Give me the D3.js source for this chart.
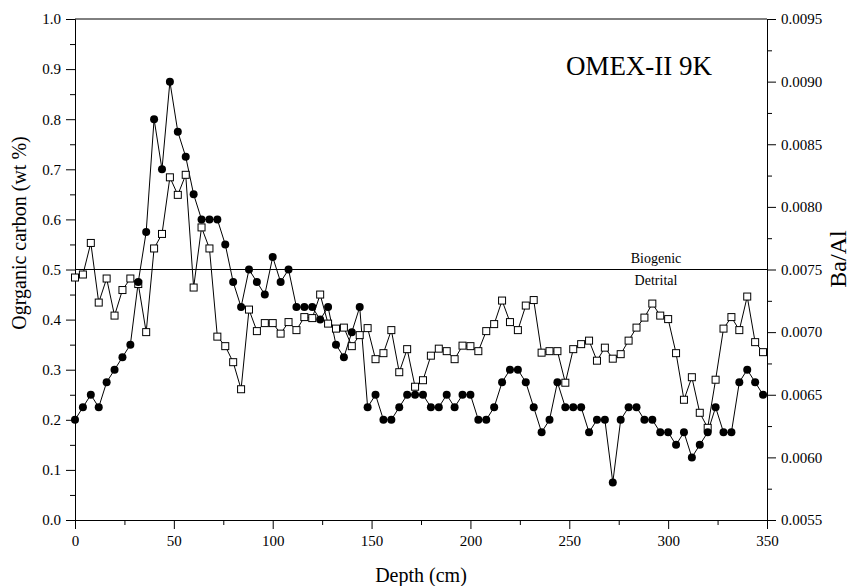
<!DOCTYPE html>
<html><head><meta charset="utf-8">
<script src="https://cdn.jsdelivr.net/npm/d3@7"></script>
<style>body{margin:0;background:#fff}svg{display:block}text{font-family:"Liberation Serif","Times New Roman",serif;fill:#000}</style>
</head><body><svg id="c" width="851" height="586"></svg>
<script>
const depth = [0,4,8,12,16,20,24,28,32,36,40,44,48,52,56,60,64,68,72,76,80,84,88,92,96,100,104,108,112,116,120,124,128,132,136,140,144,148,152,156,160,164,168,172,176,180,184,188,192,196,200,204,208,212,216,220,224,228,232,236,240,244,248,252,256,260,264,268,272,276,280,284,288,292,296,300,304,308,312,316,320,324,328,332,336,340,344,348];
const orgCarbon = [0.2,0.225,0.25,0.225,0.275,0.3,0.325,0.35,0.475,0.575,0.8,0.7,0.875,0.775,0.725,0.65,0.6,0.6,0.6,0.55,0.475,0.425,0.5,0.475,0.45,0.525,0.475,0.5,0.425,0.425,0.425,0.4,0.425,0.35,0.325,0.375,0.425,0.225,0.25,0.2,0.2,0.225,0.25,0.25,0.25,0.225,0.225,0.25,0.225,0.25,0.25,0.2,0.2,0.225,0.275,0.3,0.3,0.275,0.225,0.175,0.2,0.275,0.225,0.225,0.225,0.175,0.2,0.2,0.075,0.2,0.225,0.225,0.2,0.2,0.175,0.175,0.15,0.175,0.125,0.15,0.175,0.225,0.175,0.175,0.275,0.3,0.275,0.25];
const baAl = [0.007436,0.00746,0.007712,0.007236,0.007428,0.007132,0.007336,0.007428,0.007384,0.0070,0.007668,0.007784,0.008236,0.008096,0.008256,0.007356,0.007836,0.007668,0.006964,0.006888,0.00676,0.006544,0.00718,0.007008,0.007072,0.007072,0.006988,0.00708,0.007016,0.00712,0.007112,0.0073,0.007068,0.007028,0.007036,0.006888,0.006976,0.007032,0.006784,0.006832,0.007016,0.00668,0.006864,0.006564,0.006616,0.006812,0.006868,0.006848,0.006784,0.006892,0.006888,0.006848,0.007008,0.007064,0.007252,0.00708,0.007016,0.007212,0.007256,0.006836,0.006848,0.006848,0.006596,0.006864,0.006904,0.006932,0.006772,0.006876,0.006788,0.006824,0.006932,0.007036,0.007116,0.007228,0.007132,0.007104,0.006832,0.00646,0.00664,0.006356,0.006236,0.00662,0.007028,0.00712,0.007016,0.007284,0.00692,0.00684];
const xTicks = [0,50,100,150,200,250,300,350];
const xMinor = [25,75,125,175,225,275,325];
const yLeftTicks = [0.0,0.1,0.2,0.3,0.4,0.5,0.6,0.7,0.8,0.9,1.0];
const yLeftMinor = [0.05,0.15,0.25,0.35,0.45,0.55,0.65,0.75,0.85,0.95];
const yRightTicks = [0.0055,0.0060,0.0065,0.0070,0.0075,0.0080,0.0085,0.0090,0.0095];
const yRightMinor = [0.00575,0.00625,0.00675,0.00725,0.00775,0.00825,0.00875,0.00925];
const threshold = 0.5;
const title = "OMEX-II 9K";

const L=75,R=767,T=19,B=520;
const FONT='"Liberation Serif","Times New Roman",serif';
const svg=d3.select("#c");
const x=d3.scaleLinear().domain([0,350]).range([L,R]);
const yL=d3.scaleLinear().domain([0,1]).range([B,T]);
const yR=d3.scaleLinear().domain([0.0055,0.0095]).range([B,T]);

function styleAxis(g){g.attr("font-family",FONT).attr("font-size",15);g.selectAll("path").attr("stroke","#000").attr("stroke-width",1);g.selectAll("line").attr("stroke","#000");g.selectAll("text").style("font-family",FONT).style("font-size","15px").attr("fill","#000");}

svg.append("g").attr("transform",`translate(0,${B})`).call(d3.axisBottom(x).tickValues(xTicks).tickSize(9).tickPadding(6).tickFormat(d3.format("d")).tickSizeOuter(0)).call(styleAxis);
svg.append("g").attr("transform",`translate(0,${B})`).call(d3.axisBottom(x).tickValues(xMinor).tickSize(5).tickFormat("").tickSizeOuter(0)).call(styleAxis);
svg.append("g").attr("transform",`translate(${L},0)`).call(d3.axisLeft(yL).tickValues(yLeftTicks).tickSize(9).tickPadding(5).tickFormat(d3.format(".1f")).tickSizeOuter(0)).call(styleAxis);
svg.append("g").attr("transform",`translate(${L},0)`).call(d3.axisLeft(yL).tickValues(yLeftMinor).tickSize(5).tickFormat("").tickSizeOuter(0)).call(styleAxis);
svg.append("g").attr("transform",`translate(${R},0)`).call(d3.axisRight(yR).tickValues(yRightTicks).tickSize(9).tickPadding(5).tickFormat(d3.format(".4f")).tickSizeOuter(0)).call(styleAxis);
svg.append("g").attr("transform",`translate(${R},0)`).call(d3.axisRight(yR).tickValues(yRightMinor).tickSize(5).tickFormat("").tickSizeOuter(0)).call(styleAxis);
svg.append("line").attr("x1",L).attr("x2",R).attr("y1",T).attr("y2",T).attr("stroke","#000");

// threshold line
svg.append("line").attr("x1",L).attr("x2",R).attr("y1",yL(threshold)).attr("y2",yL(threshold)).attr("stroke","#000").attr("stroke-width",1.2);
svg.append("text").attr("x",656).attr("y",yL(threshold)-7).attr("text-anchor","middle").style("font-size","14px").text("Biogenic");
svg.append("text").attr("x",656).attr("y",yL(threshold)+15).attr("text-anchor","middle").style("font-size","14px").text("Detrital");

const line=d3.line();
const ptsC=depth.map((d,i)=>[x(d),yL(orgCarbon[i])]);
const ptsS=depth.map((d,i)=>[x(d),yR(baAl[i])]);
svg.append("path").attr("d",line(ptsS)).attr("fill","none").attr("stroke","#000").attr("stroke-width",1);
svg.append("path").attr("d",line(ptsC)).attr("fill","none").attr("stroke","#000").attr("stroke-width",1);
svg.selectAll("rect.s").data(ptsS).enter().append("rect").attr("x",d=>d[0]-3.5).attr("y",d=>d[1]-3.5).attr("width",7).attr("height",7).attr("fill","#fff").attr("stroke","#000").attr("stroke-width",1);
svg.selectAll("circle.c").data(ptsC).enter().append("circle").attr("cx",d=>d[0]).attr("cy",d=>d[1]).attr("r",4).attr("fill","#000");

svg.append("text").attr("x",639).attr("y",75).attr("text-anchor","middle").style("font-size","27px").text(title);
svg.append("text").attr("x",421).attr("y",582).attr("text-anchor","middle").style("font-size","20px").text("Depth (cm)");
svg.append("text").attr("transform","translate(26,233) rotate(-90)").attr("text-anchor","middle").style("font-size","20px").text("Ogrganic carbon (wt %)");
svg.append("text").attr("transform","translate(846,259) rotate(-90)").attr("text-anchor","middle").style("font-size","24px").text("Ba/Al");
</script></body></html>
